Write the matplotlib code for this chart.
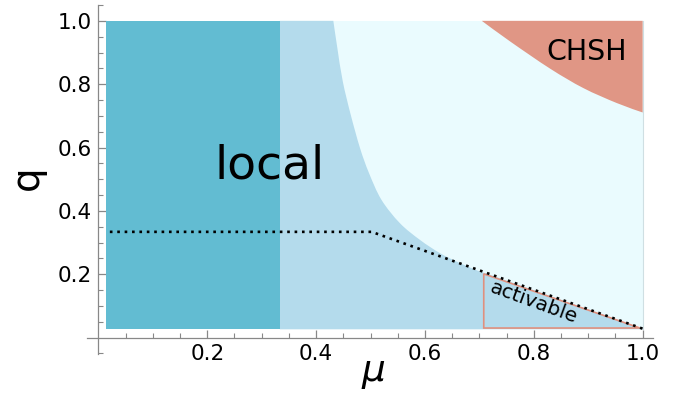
import matplotlib
matplotlib.use("Agg")
import matplotlib.pyplot as plt
from matplotlib.path import Path
from matplotlib.patches import PathPatch
import numpy as np

# ---- data ----
mu_min, mu_max = 0.0143, 1.0
q_min, q_max = 0.026, 1.0
mu_local = 1 / 3

# boundary of the light-blue region (curved upper-right edge)
bnd_mu = [0.4316, 0.439, 0.449, 0.4636, 0.4807, 0.497, 0.52, 0.554, 0.591, 0.628, 0.6645, 0.7013, 0.71]
bnd_q = [1.0, 0.914, 0.8085, 0.7033, 0.598, 0.52, 0.435, 0.361, 0.308, 0.266, 0.2347, 0.208, 0.204]
bnd_end_mu, bnd_end_q = 1.0, 0.028

# CHSH boundary
chsh_mu = [0.7044, 0.7564, 0.830, 0.891, 0.9526, 1.0]
chsh_q = [1.0, 0.935, 0.849, 0.7877, 0.7403, 0.7106]

# dotted line
dot_mu = [0.021, 0.502, 1.0]
dot_q = [0.3337, 0.3337, 0.028]

# activable triangle
act_mu = [0.708, 0.708, 0.995]
act_q = [0.030, 0.201, 0.030]

x_major = [0.2, 0.4, 0.6, 0.8, 1.0]
y_major = [0.2, 0.4, 0.6, 0.8, 1.0]
x_labels = ["0.2", "0.4", "0.6", "0.8", "1.0"]
y_labels = ["0.2", "0.4", "0.6", "0.8", "1.0"]

# ---- colours ----
c_teal = "#62BCD2"
c_light = "#B4DBEC"
c_pale = "#EAFBFE"
c_chsh = "#E09685"
c_act = "#E0907E"
c_axis = "#888888"


def smooth_segments(xs, ys):
    """Bezier (CURVE4) path codes/vertices passing through the given points."""
    P = np.column_stack([xs, ys])
    n = len(P)
    verts = []
    codes = []
    for i in range(n - 1):
        p0 = P[i - 1] if i > 0 else P[i]
        p1 = P[i]
        p2 = P[i + 1]
        p3 = P[i + 2] if i + 2 < n else P[i + 1]
        c1 = p1 + (p2 - p0) / 6.0
        c2 = p2 - (p3 - p1) / 6.0
        verts += [tuple(c1), tuple(c2), tuple(p2)]
        codes += [Path.CURVE4] * 3
    return verts, codes


fig = plt.figure(figsize=(6.82, 3.94), dpi=100)
ax = fig.add_axes([87 / 682, 40 / 394, 566 / 682, 349 / 394])
ax.set_xlim(-0.021, 1.019)
ax.set_ylim(-0.052, 1.05)

# pale background region
ax.fill([mu_min, mu_max, mu_max, mu_min], [q_min, q_min, q_max, q_max],
        color=c_pale, lw=0, zorder=1)

# light blue region
verts = [(mu_local, q_min), (mu_local, q_max), (bnd_mu[0], bnd_q[0])]
codes = [Path.MOVETO, Path.LINETO, Path.LINETO]
v, c = smooth_segments(bnd_mu, bnd_q)
verts += v
codes += c
verts += [(bnd_end_mu, bnd_end_q), (mu_max, q_min), (mu_local, q_min)]
codes += [Path.LINETO, Path.LINETO, Path.CLOSEPOLY]
ax.add_patch(PathPatch(Path(verts, codes), facecolor=c_light, lw=0, zorder=2))

# teal local region
ax.fill([mu_min, mu_local, mu_local, mu_min], [q_min, q_min, q_max, q_max],
        color=c_teal, lw=0, zorder=3)

# CHSH region
verts = [(chsh_mu[0], chsh_q[0])]
codes = [Path.MOVETO]
v, c = smooth_segments(chsh_mu, chsh_q)
verts += v
codes += c
verts += [(1.0, 1.0), (chsh_mu[0], chsh_q[0])]
codes += [Path.LINETO, Path.CLOSEPOLY]
ax.add_patch(PathPatch(Path(verts, codes), facecolor=c_chsh, lw=0, zorder=3))

# right border line of plot region
ax.plot([mu_max, mu_max], [q_min, q_max], color="#cfdfe3", lw=0.8, zorder=3)

# activable triangle
ax.fill(act_mu + [act_mu[0]], act_q + [act_q[0]], facecolor="none",
        edgecolor=c_act, lw=1.2, zorder=4)

# dotted line
ax.plot(dot_mu, dot_q, color="black", lw=1.9, dashes=(1, 1.8),
        dash_capstyle="butt", zorder=5)

# texts
ax.text(0.315, 0.503, "local", fontsize=34, ha="center", va="baseline", zorder=6)
ax.text(0.8974, 0.877, "CHSH", fontsize=20.5, ha="center", va="baseline", zorder=6)
ax.text(0.80, 0.109, "activable", fontsize=14.5, ha="center", va="center",
        rotation=-20, rotation_mode="anchor", zorder=6)

# axes styling (Mathematica style crossing axes)
for s in ["top", "right"]:
    ax.spines[s].set_visible(False)
ax.spines["left"].set_position(("data", 0))
ax.spines["bottom"].set_position(("data", 0))
for s in ["left", "bottom"]:
    ax.spines[s].set_color(c_axis)
    ax.spines[s].set_linewidth(0.9)
ax.patch.set_visible(False)

ax.set_xticks(x_major)
ax.set_xticklabels(x_labels)
ax.set_yticks(y_major)
ax.set_yticklabels(y_labels)
x_minor = [v for v in np.round(np.arange(0.05, 1.001, 0.05), 2) if round(v / 0.2, 6) % 1 != 0]
y_minor = [v for v in np.round(np.arange(-0.05, 1.051, 0.05), 2)
           if abs(v) > 1e-9 and round(v / 0.2, 6) % 1 != 0]
ax.set_xticks(x_minor, minor=True)
ax.set_yticks(y_minor, minor=True)
ax.tick_params(which="major", direction="in", length=6, width=0.9, color=c_axis,
               labelsize=15.5, labelcolor="black")
ax.tick_params(which="minor", direction="in", length=3.5, width=0.8, color=c_axis)
ax.tick_params(axis="x", which="major", pad=5)
ax.tick_params(axis="y", which="major", pad=5)

fig.text(27 / 682, 1 - 178 / 394, "q", rotation=90, ha="center", va="center", fontsize=28)
fig.text(373 / 682, 1 - 373 / 394, r"$\mu$", ha="center", va="center", fontsize=27)

fig.savefig("out.png", dpi=100)
